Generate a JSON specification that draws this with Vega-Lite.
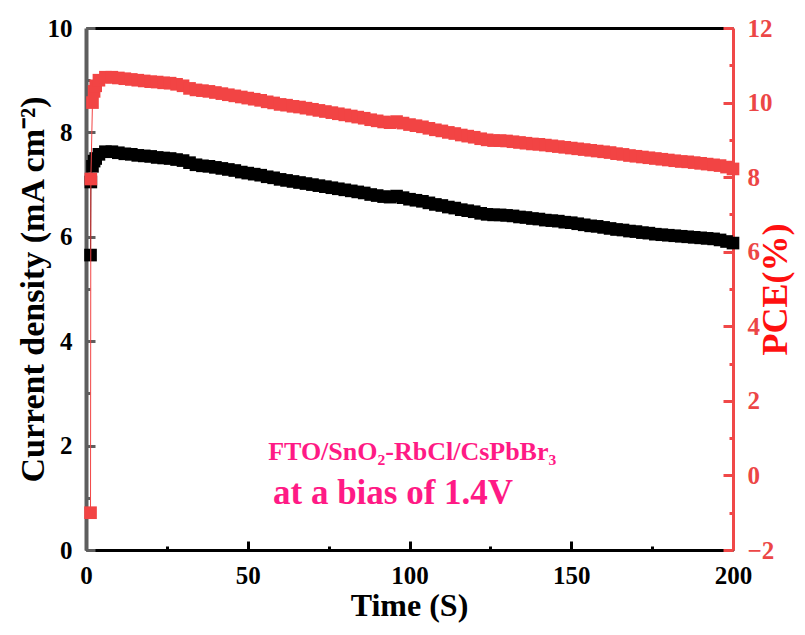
{
  "$schema": "https://vega.github.io/schema/vega-lite/v6.json",
  "width": 647,
  "height": 522,
  "autosize": {"type": "none"},
  "padding": {"left": 86, "top": 28, "right": 72, "bottom": 85},
  "config": {
    "view": {"stroke": null}
  },
  "data": {"values": [
    {"t": 1.4, "j": 5.65, "p": -1.0},
    {"t": 1.5, "j": 7.05, "p": 7.95},
    {"t": 2, "j": 7.35, "p": 10.0},
    {"t": 2.5, "j": 7.45, "p": 10.3},
    {"t": 3, "j": 7.5, "p": 10.45},
    {"t": 4, "j": 7.58, "p": 10.60},
    {"t": 6, "j": 7.63, "p": 10.68},
    {"t": 8, "j": 7.63, "p": 10.68},
    {"t": 10, "j": 7.61, "p": 10.66},
    {"t": 12, "j": 7.59, "p": 10.64},
    {"t": 14, "j": 7.58, "p": 10.62},
    {"t": 16, "j": 7.56, "p": 10.60},
    {"t": 18, "j": 7.55, "p": 10.58},
    {"t": 20, "j": 7.54, "p": 10.56},
    {"t": 22, "j": 7.52, "p": 10.55},
    {"t": 24, "j": 7.51, "p": 10.53},
    {"t": 26, "j": 7.50, "p": 10.52},
    {"t": 28, "j": 7.48, "p": 10.49},
    {"t": 30, "j": 7.46, "p": 10.45},
    {"t": 32, "j": 7.42, "p": 10.38},
    {"t": 34, "j": 7.38, "p": 10.34},
    {"t": 36, "j": 7.36, "p": 10.32},
    {"t": 38, "j": 7.35, "p": 10.30},
    {"t": 40, "j": 7.33, "p": 10.27},
    {"t": 42, "j": 7.31, "p": 10.24},
    {"t": 44, "j": 7.29, "p": 10.21},
    {"t": 46, "j": 7.27, "p": 10.18},
    {"t": 48, "j": 7.24, "p": 10.15},
    {"t": 50, "j": 7.22, "p": 10.12},
    {"t": 52, "j": 7.20, "p": 10.09},
    {"t": 54, "j": 7.18, "p": 10.06},
    {"t": 56, "j": 7.15, "p": 10.02},
    {"t": 58, "j": 7.13, "p": 9.99},
    {"t": 60, "j": 7.10, "p": 9.95},
    {"t": 62, "j": 7.08, "p": 9.93},
    {"t": 64, "j": 7.06, "p": 9.90},
    {"t": 66, "j": 7.04, "p": 9.88},
    {"t": 68, "j": 7.02, "p": 9.85},
    {"t": 70, "j": 7.00, "p": 9.82},
    {"t": 72, "j": 6.98, "p": 9.79},
    {"t": 74, "j": 6.96, "p": 9.76},
    {"t": 76, "j": 6.94, "p": 9.73},
    {"t": 78, "j": 6.92, "p": 9.70},
    {"t": 80, "j": 6.90, "p": 9.67},
    {"t": 82, "j": 6.88, "p": 9.64},
    {"t": 84, "j": 6.86, "p": 9.61},
    {"t": 86, "j": 6.84, "p": 9.58},
    {"t": 88, "j": 6.81, "p": 9.54},
    {"t": 90, "j": 6.79, "p": 9.51},
    {"t": 92, "j": 6.77, "p": 9.48},
    {"t": 94, "j": 6.76, "p": 9.46},
    {"t": 96, "j": 6.78, "p": 9.49},
    {"t": 98, "j": 6.75, "p": 9.45},
    {"t": 100, "j": 6.72, "p": 9.41},
    {"t": 102, "j": 6.70, "p": 9.38},
    {"t": 104, "j": 6.68, "p": 9.35},
    {"t": 106, "j": 6.65, "p": 9.31},
    {"t": 108, "j": 6.62, "p": 9.27},
    {"t": 110, "j": 6.60, "p": 9.24},
    {"t": 112, "j": 6.57, "p": 9.20},
    {"t": 114, "j": 6.55, "p": 9.17},
    {"t": 116, "j": 6.52, "p": 9.13},
    {"t": 118, "j": 6.50, "p": 9.10},
    {"t": 120, "j": 6.48, "p": 9.07},
    {"t": 122, "j": 6.45, "p": 9.03},
    {"t": 124, "j": 6.43, "p": 9.00},
    {"t": 126, "j": 6.42, "p": 8.98},
    {"t": 128, "j": 6.42, "p": 8.98},
    {"t": 130, "j": 6.41, "p": 8.97},
    {"t": 132, "j": 6.40, "p": 8.95},
    {"t": 134, "j": 6.38, "p": 8.93},
    {"t": 136, "j": 6.37, "p": 8.91},
    {"t": 138, "j": 6.35, "p": 8.89},
    {"t": 140, "j": 6.34, "p": 8.88},
    {"t": 142, "j": 6.32, "p": 8.86},
    {"t": 144, "j": 6.31, "p": 8.84},
    {"t": 146, "j": 6.30, "p": 8.82},
    {"t": 148, "j": 6.28, "p": 8.80},
    {"t": 150, "j": 6.27, "p": 8.78},
    {"t": 152, "j": 6.25, "p": 8.76},
    {"t": 154, "j": 6.23, "p": 8.74},
    {"t": 156, "j": 6.21, "p": 8.72},
    {"t": 158, "j": 6.20, "p": 8.70},
    {"t": 160, "j": 6.18, "p": 8.68},
    {"t": 162, "j": 6.16, "p": 8.66},
    {"t": 164, "j": 6.14, "p": 8.63},
    {"t": 166, "j": 6.13, "p": 8.61},
    {"t": 168, "j": 6.11, "p": 8.58},
    {"t": 170, "j": 6.10, "p": 8.56},
    {"t": 172, "j": 6.08, "p": 8.54},
    {"t": 174, "j": 6.07, "p": 8.52},
    {"t": 176, "j": 6.05, "p": 8.50},
    {"t": 178, "j": 6.04, "p": 8.48},
    {"t": 180, "j": 6.03, "p": 8.46},
    {"t": 182, "j": 6.02, "p": 8.44},
    {"t": 184, "j": 6.01, "p": 8.42},
    {"t": 186, "j": 6.00, "p": 8.41},
    {"t": 188, "j": 5.99, "p": 8.39},
    {"t": 190, "j": 5.98, "p": 8.37},
    {"t": 192, "j": 5.97, "p": 8.35},
    {"t": 194, "j": 5.96, "p": 8.33},
    {"t": 196, "j": 5.94, "p": 8.31},
    {"t": 198, "j": 5.91, "p": 8.27},
    {"t": 200, "j": 5.88, "p": 8.22}
  ]},
  "layer": [
    {
      "encoding": {
        "x": {
          "field": "t", "type": "quantitative",
          "scale": {"domain": [0, 200], "nice": false, "zero": false},
          "axis": {
            "orient": "bottom", "grid": false, "domain": true, "domainColor": "black", "domainWidth": 3,
            "tickCount": 4,
            "tickSize": -9, "tickWidth": 3, "tickColor": "black",
            "labelFont": "Liberation Serif", "labelFontWeight": "bold", "labelFontSize": 25, "labelColor": "black", "labelPadding": 22, "labelFlush": false,
            "title": "Time (S)", "titleFont": "Liberation Serif", "titleFontWeight": "bold", "titleFontSize": 32, "titleColor": "black",
            "titleX": 323, "titleY": 55, "titleBaseline": "middle", "titleAlign": "center"
          }
        },
        "y": {"field": "j", "type": "quantitative", "scale": {"domain": [0, 10], "nice": false}}
      },
      "layer": [
        {
          "mark": {"type": "line", "color": "black", "strokeWidth": 1},
          "encoding": {
            "y": {
              "field": "j", "type": "quantitative",
              "axis": {
                "orient": "left", "grid": false, "domain": false,
                "tickCount": 5,
                "tickSize": -9, "tickWidth": 3, "tickColor": "#5e5e5e",
                "labelFont": "Liberation Serif", "labelFontWeight": "bold", "labelFontSize": 25, "labelColor": "black", "labelPadding": 23, "labelFlush": false,
                "title": "Current density (mA cm⁻²)", "titleFont": "Liberation Serif", "titleFontWeight": "bold", "titleFontSize": 34, "titleColor": "black",
                "titleX": -53, "titleY": 261, "titleAngle": -90, "titleBaseline": "middle", "titleAlign": "center"
              }
            }
          }
        },
        {
          "mark": {"type": "point", "shape": "square", "filled": true, "size": 160, "color": "black", "opacity": 1, "strokeWidth": 0},
          "encoding": {
            "y": {
              "field": "j", "type": "quantitative",
              "axis": {
                "orient": "left", "grid": false, "domain": false, "labels": false, "title": null,
                "values": [1, 3, 5, 7, 9],
                "tickSize": -4, "tickWidth": 3, "tickColor": "#5e5e5e"
              }
            }
          }
        }
      ],
      "resolve": {"axis": {"y": "independent"}}
    },
    {
      "encoding": {
        "x": {
          "field": "t", "type": "quantitative",
          "scale": {"domain": [0, 200], "nice": false, "zero": false},
          "axis": {
            "orient": "bottom", "grid": false, "domain": false, "labels": false, "title": null,
            "values": [25, 75, 125, 175],
            "tickSize": -4, "tickWidth": 3, "tickColor": "black"
          }
        },
        "y": {"field": "p", "type": "quantitative", "scale": {"domain": [-2, 12], "nice": false, "zero": false}}
      },
      "layer": [
        {
          "mark": {"type": "line", "color": "#f24444", "strokeWidth": 1},
          "encoding": {
            "y": {
              "field": "p", "type": "quantitative",
              "axis": {
                "orient": "right", "grid": false, "domain": false,
                "tickCount": 7,
                "tickSize": -10, "tickWidth": 3, "tickColor": "#f04848",
                "labelFont": "Liberation Serif", "labelFontWeight": "bold", "labelFontSize": 25, "labelColor": "#ec4646", "labelPadding": 24, "labelFlush": false,
                "title": "PCE(%)", "titleFont": "Liberation Serif", "titleFontWeight": "bold", "titleFontSize": 36, "titleColor": "#ff1010",
                "titleX": 42, "titleY": 261, "titleAngle": 270, "titleBaseline": "middle", "titleAlign": "center"
              }
            }
          }
        },
        {
          "mark": {"type": "point", "shape": "square", "filled": true, "size": 160, "color": "#f24444", "opacity": 1, "strokeWidth": 0},
          "encoding": {
            "y": {
              "field": "p", "type": "quantitative",
              "axis": {
                "orient": "right", "grid": false, "domain": false, "labels": false, "title": null,
                "values": [-1, 1, 3, 5, 7, 9, 11],
                "tickSize": -4, "tickWidth": 3, "tickColor": "#f04848"
              }
            }
          }
        }
      ],
      "resolve": {"axis": {"y": "independent"}}
    },
    {
      "data": {"values": [{"label": "FTO/SnO₂-RbCl/CsPbBr₃", "t": 56.3, "v": 1.88}]},
      "mark": {"type": "text", "align": "left", "baseline": "middle", "font": "Liberation Serif", "fontWeight": "bold", "fontSize": 26, "color": "#ff1a85"},
      "encoding": {
        "x": {
          "field": "t", "type": "quantitative", "scale": {"domain": [0, 200], "nice": false, "zero": false},
          "axis": {"orient": "top", "grid": false, "domain": true, "domainColor": "black", "domainWidth": 3, "ticks": false, "labels": false, "title": null}
        },
        "y": {
          "field": "v", "type": "quantitative", "scale": {"domain": [0, 10], "nice": false},
          "axis": {"orient": "left", "grid": false, "domain": true, "domainColor": "#5e5e5e", "domainWidth": 4, "ticks": false, "labels": false, "title": null}
        },
        "text": {"field": "label"}
      }
    },
    {
      "data": {"values": [{"label": "at a bias of 1.4V", "t": 57.8, "v": 1.09}]},
      "mark": {"type": "text", "align": "left", "baseline": "middle", "font": "Liberation Serif", "fontWeight": "bold", "fontSize": 35, "color": "#ff1a85"},
      "encoding": {
        "x": {"field": "t", "type": "quantitative", "scale": {"domain": [0, 200], "nice": false, "zero": false}, "axis": null},
        "y": {
          "field": "v", "type": "quantitative", "scale": {"domain": [0, 10], "nice": false},
          "axis": {"orient": "right", "grid": false, "domain": true, "domainColor": "#f04848", "domainWidth": 3, "ticks": false, "labels": false, "title": null}
        },
        "text": {"field": "label"}
      }
    }
  ],
  "resolve": {"scale": {"y": "independent"}, "axis": {"x": "independent"}}
}
